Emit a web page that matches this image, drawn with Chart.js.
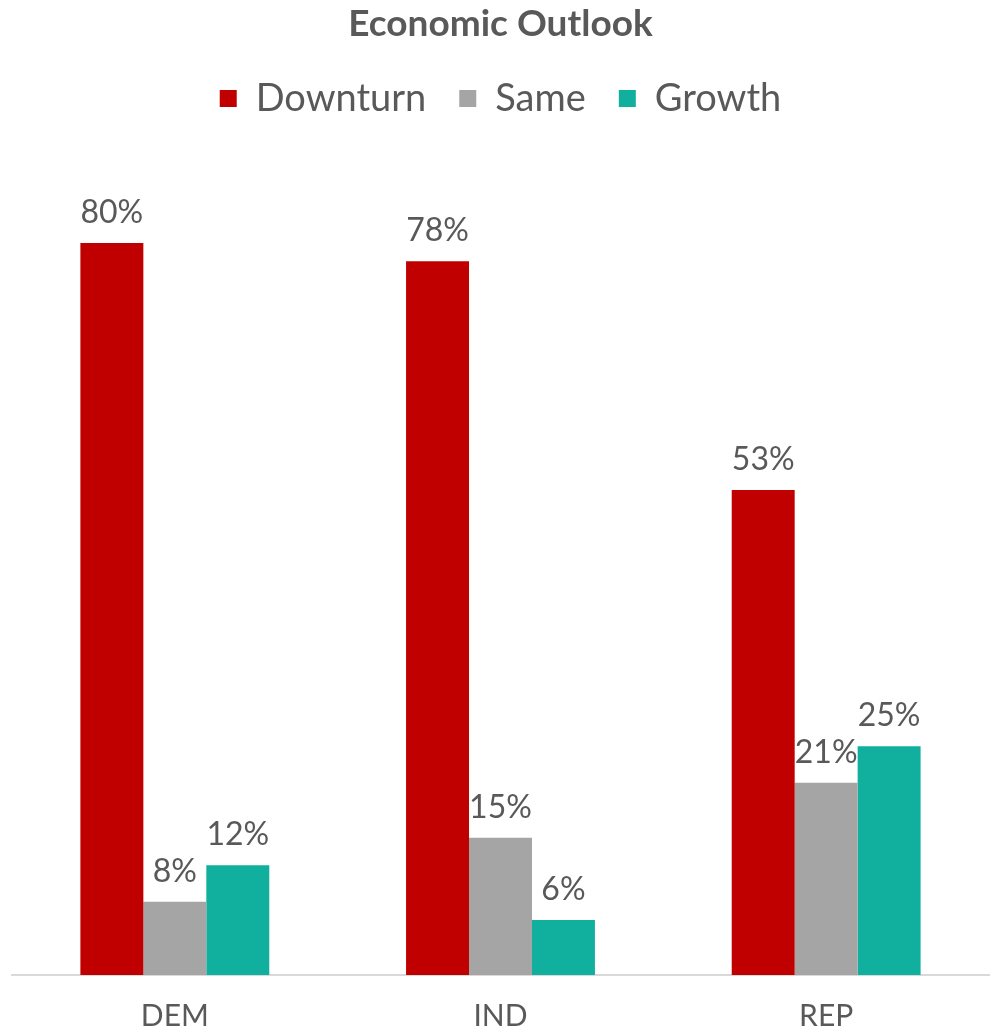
<!DOCTYPE html>
<html lang="en">

<head>
    <meta charset="UTF-8">
    <script src="https://cdn.jsdelivr.net/npm/chart.js"></script>
    <title>Economic Outlook</title>
    <style>
        body {
            margin: 0;
            background: #ffffff;
        }

        #grafico {
            display: block;
        }
    </style>
</head>

<body>
    <canvas id="grafico" width="997" height="1029"></canvas>
</body>

</html>

<script>
    const grupos = ['DEM', 'IND', 'REP'];
    const series = ['Downturn', 'Same', 'Growth'];
    const downturn = [80, 78, 53];
    const same = [8, 15, 21];
    const growth = [12, 6, 25];
    const cores = ['#C00000', '#A5A5A5', '#11B09E'];

    const fonte = 'Lato, "Century Gothic", sans-serif';
    const cinza = '#595959';

    // escreve o valor em cima de cada barra
    const rotulos = {
        id: 'rotulos',
        afterDatasetsDraw(chart) {
            const ctx = chart.ctx;
            ctx.save();
            ctx.font = '32px ' + fonte;
            ctx.fillStyle = cinza;
            ctx.textAlign = 'center';
            ctx.textBaseline = 'alphabetic';
            chart.data.datasets.forEach((ds, i) => {
                chart.getDatasetMeta(i).data.forEach((barra, j) => {
                    ctx.fillText(ds.data[j] + '%', barra.x, barra.y - 20);
                });
            });
            ctx.restore();
        }
    };

    // mais espaço entre a legenda e as barras
    const espacoLegenda = {
        id: 'espacoLegenda',
        beforeInit(chart) {
            const fitOriginal = chart.legend.fit;
            chart.legend.fit = function () {
                fitOriginal.bind(chart.legend)();
                this.height += 24;
            };
        }
    };

    const ctx = document.getElementById('grafico').getContext('2d');

    new Chart(ctx, {
        type: 'bar',
        data: {
            labels: grupos,
            datasets: [
                { label: series[0], data: downturn, backgroundColor: cores[0] },
                { label: series[1], data: same, backgroundColor: cores[1] },
                { label: series[2], data: growth, backgroundColor: cores[2] }
            ]
        },
        options: {
            responsive: false,
            animation: false,
            layout: {
                padding: { left: 12, right: 8, top: 0, bottom: -20 }
            },
            datasets: {
                bar: {
                    categoryPercentage: 0.58,
                    barPercentage: 1.0
                }
            },
            plugins: {
                tooltip: { enabled: false },
                title: {
                    display: true,
                    text: 'Economic Outlook',
                    color: cinza,
                    font: { family: fonte, size: 37, weight: 'bold' },
                    padding: { top: 2, bottom: 0 }
                },
                legend: {
                    labels: {
                        color: cinza,
                        font: { family: fonte, size: 38 },
                        boxWidth: 17,
                        boxHeight: 17,
                        padding: 33
                    }
                }
            },
            scales: {
                x: {
                    grid: { display: false },
                    border: { display: true, color: '#D9D9D9', width: 2 },
                    ticks: {
                        color: cinza,
                        font: { family: fonte, size: 30 },
                        padding: 15
                    }
                },
                y: {
                    display: false,
                    min: 0,
                    max: 90
                }
            }
        },
        plugins: [rotulos, espacoLegenda]
    });
</script>
